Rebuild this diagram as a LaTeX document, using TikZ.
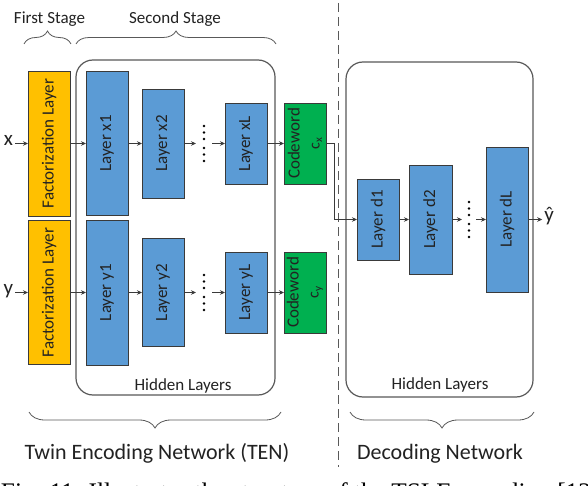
\documentclass[tikz,border=0pt]{standalone}
\usepackage{fontspec}
\setmainfont{Carlito}
\newfontfamily\capfont{Liberation Serif}
\usetikzlibrary{arrows.meta,decorations.pathreplacing}
\definecolor{fyel}{HTML}{FFC000}
\definecolor{lblue}{HTML}{5B9BD5}
\definecolor{cgreen}{HTML}{00B050}
\definecolor{edgec}{HTML}{3A3A3A}
\definecolor{txt}{HTML}{222222}
\definecolor{hid}{HTML}{595959}
\begin{document}
\begin{tikzpicture}[x=1pt,y=-1pt,
  every node/.style={inner sep=0pt, outer sep=0pt, text=txt},
  blk/.style={draw=edgec, line width=0.9pt, rotate=90, font=\fontsize{17}{20}\selectfont, align=center},
  fact/.style={blk, fill=fyel},
  lay/.style={blk, fill=lblue},
  cw/.style={blk, fill=cgreen},
  hidbox/.style={draw=hid, line width=1.2pt, rounded corners=17pt},
  conn/.style={draw=edgec, line width=0.9pt, -{Stealth[length=5pt,width=4.5pt]}},
  brc/.style={draw=hid, line width=0.8pt, decorate, decoration={brace, amplitude=#1}},
  lbl/.style={font=\fontsize{17}{20}\selectfont},
  big/.style={font=\fontsize{22}{26}\selectfont},
  io/.style={font=\fontsize{21}{24}\selectfont, anchor=mid},
]
\clip (0,0) rectangle (588,486);
\fill[white] (0,0) rectangle (588,486);

% hidden-layer containers
\node[hidbox, minimum width=199pt, minimum height=335pt] (henc) at (175.5,227.5) {};
\node[hidbox, minimum width=187pt, minimum height=335pt] (hdec) at (439.5,229.5) {};
\node[lbl, anchor=base] (hl1) at (183,390) {Hidden Layers};
\node[lbl, anchor=base] (hl2) at (440,389) {Hidden Layers};

% dashed separator
\draw[hid, line width=1pt, dash pattern=on 9pt off 5pt] (338,3) -- (338,467);

% stage labels and braces
\node[lbl, anchor=base] (fs) at (49.5,24) {First Stage};
\node[lbl, anchor=base] (ss) at (175,24) {Second Stage};
\draw[brc=13pt] (24,44) -- (71,44);
\draw[brc=13pt] (76,44) -- (276,44);
\draw[brc=16pt] (281,412) -- (29,412);
\draw[brc=16pt] (534,412) -- (350,412);
\node[big, anchor=base] (ten) at (157,459) {Twin Encoding Network (TEN)};
\node[big, anchor=base] (dec) at (440,459) {Decoding Network};

% inputs
\node[io] (xin) at (8.5,143.5) {x};
\node[io] (yin) at (8.5,292.5) {y};

% x branch
\node[fact, minimum width=145pt, minimum height=42pt] (fx) at (49,143.5) {Factorization Layer};
\node[lay, minimum width=144pt, minimum height=42pt] (x1) at (107,143.5) {Layer x1};
\node[lay, minimum width=109pt, minimum height=42pt] (x2) at (163,143.5) {Layer x2};
\node[lay, minimum width=81pt, minimum height=42pt] (xL) at (246,143.5) {Layer xL};
\node[cw, minimum width=81pt, minimum height=42pt] (cx) at (305,143.5) {Codeword\\{\fontsize{16}{16}\selectfont c\textsubscript{x}}};

% y branch
\node[fact, minimum width=144pt, minimum height=42pt] (fy) at (49,292.5) {Factorization Layer};
\node[lay, minimum width=145pt, minimum height=42pt] (y1) at (107,292.5) {Layer y1};
\node[lay, minimum width=108pt, minimum height=42pt] (y2) at (163,292.5) {Layer y2};
\node[lay, minimum width=81pt, minimum height=42pt] (yL) at (246,292.5) {Layer yL};
\node[cw, minimum width=81pt, minimum height=42pt] (cy) at (305,292.5) {Codeword\\{\fontsize{16}{16}\selectfont c\textsubscript{y}}};

% decoder
\node[lay, minimum width=81pt, minimum height=42pt] (d1) at (378,219.5) {Layer d1};
\node[lay, minimum width=109pt, minimum height=43pt] (d2) at (430.5,219.5) {Layer d2};
\node[lay, minimum width=145pt, minimum height=42pt] (dL) at (507,219.5) {Layer dL};
\node[io] (yhat) at (549,219.5) {ŷ};

% dots
\foreach \cx/\cy in {204/143.5, 204/292.5, 469/219.5}{
  \foreach \d in {-17.5,-11,-4.5,4.5,11,17.5}{
    \fill[black] (\cx,\cy) ++(0,\d) circle[radius=1.3pt];
  }
}
\coordinate (xda) at (196,143.5);
\coordinate (xdb) at (212,143.5);
\coordinate (yda) at (196,292.5);
\coordinate (ydb) at (212,292.5);
\coordinate (dda) at (462,219.5);
\coordinate (ddb) at (476,219.5);

% connectors
\draw[conn, shorten <=2pt] (xin.mid east) -- (fx.north);
\draw[conn] (fx.south) -- (x1.north);
\draw[conn] (x1.south) -- (x2.north);
\draw[conn] (x2.south) -- (xda);
\draw[conn] (xdb) -- (xL.north);
\draw[conn] (xL.south) -- (cx.north);

\draw[conn, shorten <=2pt] (yin.mid east) -- (fy.north);
\draw[conn] (fy.south) -- (y1.north);
\draw[conn] (y1.south) -- (y2.north);
\draw[conn] (y2.south) -- (yda);
\draw[conn] (ydb) -- (yL.north);
\draw[conn] (yL.south) -- (cy.north);

\draw[conn] (cx.south) -- ++(8,0) |- (d1.north);
\draw[conn] (d1.south) -- (d2.north);
\draw[conn] (d2.south) -- (dda);
\draw[conn] (ddb) -- (dL.north);
\draw[conn, shorten >=2pt] (dL.south) -- (yhat.mid west);

% caption (cut off at the bottom edge, as in the reference)
\node[anchor=base west, font=\capfont\fontsize{25.3}{30}\selectfont, text=black] (cap) at (1,500) {Fig. 11. Illustrates the structure of the TSLE encoding [12};
\end{tikzpicture}
\end{document}
